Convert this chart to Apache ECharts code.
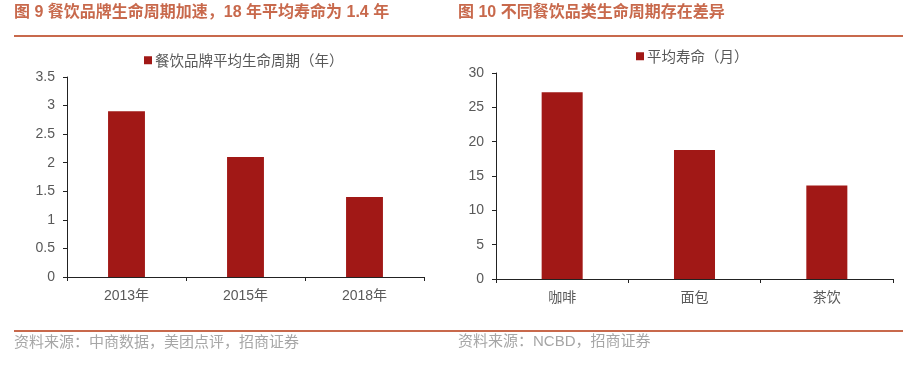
<!DOCTYPE html>
<html>
<head>
<meta charset="utf-8">
<script src="https://cdn.jsdelivr.net/npm/echarts@6/dist/echarts.min.js"></script>
<style>
  html, body { margin: 0; padding: 0; background: #fff; }
  #mychart { width: 922px; height: 376px; }
</style>
</head>
<body>
<div id="mychart"></div>
<script>
// 左图：餐饮品牌平均生命周期（年）
const leftCategories = ['2013年', '2015年', '2018年']
const leftValues = [2.9, 2.1, 1.4]
const leftName = '餐饮品牌平均生命周期（年）'

// 右图：不同品类平均寿命（月）
const rightCategories = ['咖啡', '面包', '茶饮']
const rightValues = [27.2, 18.8, 13.6]
const rightName = '平均寿命（月）'

const barColor = '#a11816'
const ruleColor = '#c8694c'
const labelColor = '#595959'
const cjk = '"Noto Sans CJK SC", sans-serif'
const mixed = '"Liberation Sans", "Noto Sans CJK SC", sans-serif'

function valueAxis(gridIndex, max, interval) {
  return {
    type: 'value',
    gridIndex: gridIndex,
    min: 0,
    max: max,
    interval: interval,
    splitLine: { show: false },
    axisLine: { show: true, lineStyle: { color: '#222', width: 1 } },
    axisTick: { show: true, length: 4, lineStyle: { color: '#222' } },
    axisLabel: { color: labelColor, fontSize: 14, margin: 12, fontFamily: mixed }
  }
}

function categoryAxis(gridIndex, data) {
  return {
    type: 'category',
    gridIndex: gridIndex,
    data: data,
    axisLine: { lineStyle: { color: '#222', width: 1 } },
    axisTick: { show: true, length: 4, lineStyle: { color: '#222' } },
    axisLabel: { color: labelColor, fontSize: 14, margin: 12, fontFamily: mixed }
  }
}

const myChart = echarts.init(document.querySelector('#mychart'))
myChart.setOption({
  animation: false,
  textStyle: { fontFamily: cjk },
  graphic: [
    {
      type: 'text', left: 14, top: 5,
      style: { text: '图 9 餐饮品牌生命周期加速，18 年平均寿命为 1.4 年', fill: ruleColor, font: 'bold 16px ' + mixed }
    },
    {
      type: 'text', left: 458, top: 5,
      style: { text: '图 10 不同餐饮品类生命周期存在差异', fill: ruleColor, font: 'bold 16px ' + mixed }
    },
    { type: 'line', shape: { x1: 14, y1: 36, x2: 903, y2: 36 }, style: { stroke: ruleColor, lineWidth: 2 } },
    { type: 'line', shape: { x1: 14, y1: 331, x2: 903, y2: 331 }, style: { stroke: ruleColor, lineWidth: 2 } },
    {
      type: 'text', left: 14, top: 334,
      style: { text: '资料来源：中商数据，美团点评，招商证券', fill: '#a6a6a6', font: '15px ' + cjk }
    },
    {
      type: 'text', left: 458, top: 334,
      style: { text: '资料来源：NCBD，招商证券', fill: '#a6a6a6', font: '15px ' + mixed }
    }
  ],
  legend: [
    {
      data: [leftName], left: 144, top: 53, padding: 0,
      itemWidth: 8, itemHeight: 8, itemGap: 4, icon: 'rect',
      textStyle: { color: labelColor, fontSize: 14.5, padding: [0, 0, 0, -2] }
    },
    {
      data: [rightName], left: 636, top: 49, padding: 0,
      itemWidth: 8, itemHeight: 8, itemGap: 4, icon: 'rect',
      textStyle: { color: labelColor, fontSize: 14.5, padding: [0, 0, 0, -2] }
    }
  ],
  grid: [
    { left: 67, top: 77, width: 357, height: 200 },
    { left: 496, top: 73, width: 397, height: 206 }
  ],
  xAxis: [categoryAxis(0, leftCategories), categoryAxis(1, rightCategories)],
  yAxis: [valueAxis(0, 3.5, 0.5), valueAxis(1, 30, 5)],
  series: [
    {
      name: leftName, type: 'bar', xAxisIndex: 0, yAxisIndex: 0,
      data: leftValues, barWidth: '31%',
      itemStyle: { color: barColor }
    },
    {
      name: rightName, type: 'bar', xAxisIndex: 1, yAxisIndex: 1,
      data: rightValues, barWidth: '31%',
      itemStyle: { color: barColor }
    }
  ]
})
</script>
</body>
</html>
